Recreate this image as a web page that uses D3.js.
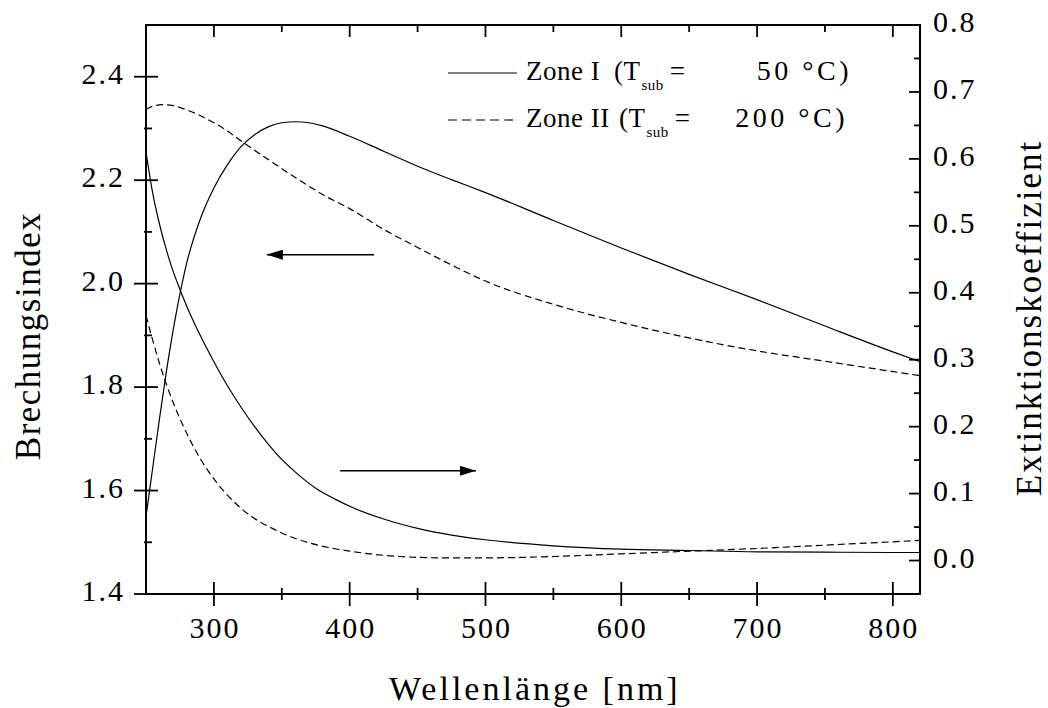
<!DOCTYPE html>
<meta charset="utf-8">
<style>
body { margin: 0; background: #fff; }
svg text { font-family: "Liberation Serif", "Times New Roman", serif; fill: #000; }
</style>
<body>
<svg id="chart"></svg>
<script src="https://cdn.jsdelivr.net/npm/d3@7"></script>
<script>

var width = 1048,
    height = 708;

// wavelength samples (nm)
var lambdaN1 = [250, 255, 260, 265, 270, 275, 280, 290, 300, 310, 320, 330, 340, 350, 360, 370, 380, 400, 425, 450, 475, 500, 550, 600, 650, 700, 750, 800, 820];
// refractive index, zone I (T_sub = 50 C)
var nZone1 = [1.55, 1.645, 1.74, 1.83, 1.91, 1.98, 2.04, 2.125, 2.185, 2.23, 2.265, 2.288, 2.303, 2.311, 2.313, 2.311, 2.305, 2.285, 2.256, 2.227, 2.201, 2.176, 2.122, 2.069, 2.018, 1.969, 1.918, 1.868, 1.849];

var lambdaN2 = [250, 255, 262, 270, 280, 295, 310, 321, 340, 360, 383, 400, 425, 450, 475, 500, 550, 600, 650, 700, 750, 800, 820];
// refractive index, zone II (T_sub = 200 C)
var nZone2 = [2.337, 2.343, 2.346, 2.344, 2.336, 2.318, 2.295, 2.274, 2.24, 2.205, 2.168, 2.145, 2.105, 2.07, 2.036, 2.005, 1.96, 1.925, 1.895, 1.87, 1.85, 1.83, 1.822];

var lambdaK1 = [250, 255, 260, 265, 270, 275, 280, 290, 300, 310, 320, 330, 340, 350, 360, 375, 390, 400, 425, 450, 475, 500, 550, 600, 650, 700, 750, 800, 820];
// extinction coefficient, zone I
var kZone1 = [0.61, 0.548, 0.502, 0.464, 0.432, 0.405, 0.38, 0.336, 0.297, 0.261, 0.229, 0.2, 0.174, 0.151, 0.132, 0.108, 0.091, 0.081, 0.062, 0.048, 0.038, 0.031, 0.022, 0.017, 0.015, 0.013, 0.0125, 0.012, 0.012];

var lambdaK2 = [250, 260, 270, 280, 290, 300, 320, 346, 360, 388, 400, 437, 470, 500, 550, 600, 650, 700, 750, 800, 820];
// extinction coefficient, zone II
var kZone2 = [0.366, 0.294, 0.236, 0.19, 0.152, 0.122, 0.078, 0.045, 0.033, 0.018, 0.014, 0.006, 0.004, 0.004, 0.006, 0.01, 0.014, 0.018, 0.023, 0.028, 0.03];

var xMajor = [300, 400, 500, 600, 700, 800],
    xMinor = [350, 450, 550, 650, 750];
var nMajor = [1.4, 1.6, 1.8, 2.0, 2.2, 2.4],
    nMinor = [1.5, 1.7, 1.9, 2.1, 2.3];
var kMajor = [0.0, 0.1, 0.2, 0.3, 0.4, 0.5, 0.6, 0.7, 0.8],
    kMinor = [0.05, 0.15, 0.25, 0.35, 0.45, 0.55, 0.65, 0.75];

var legendLabels = ["Zone I", "Zone II"];
var legendTemps = ["50 \u00b0C)", "200 \u00b0C)"];

var svg = d3.select("#chart")
    .attr("width", width)
    .attr("height", height);

var plotLeft = 146, plotRight = 920, plotTop = 25, plotBottom = 594;

var x = d3.scaleLinear().domain([250, 820]).range([plotLeft, plotRight]);
var yN = d3.scaleLinear().domain([1.4, 2.5]).range([plotBottom, plotTop]);
var yK = d3.scaleLinear().domain([-0.05, 0.8]).range([plotBottom, plotTop]);

// curves
var lineN = d3.line().x(function(d) { return x(d[0]); }).y(function(d) { return yN(d[1]); }).curve(d3.curveMonotoneX);
var lineK = d3.line().x(function(d) { return x(d[0]); }).y(function(d) { return yK(d[1]); }).curve(d3.curveMonotoneX);

function zip(a, b) { return a.map(function(v, i) { return [v, b[i]]; }); }

var curves = svg.append("g")
    .attr("fill", "none")
    .attr("stroke", "#000")
    .attr("stroke-width", 1.2);

curves.append("path").attr("d", lineN(zip(lambdaN1, nZone1)));
curves.append("path").attr("d", lineN(zip(lambdaN2, nZone2))).attr("stroke-dasharray", "7,4");
curves.append("path").attr("d", lineK(zip(lambdaK1, kZone1)));
curves.append("path").attr("d", lineK(zip(lambdaK2, kZone2))).attr("stroke-dasharray", "7,4");

// frame
svg.append("rect")
    .attr("x", plotLeft).attr("y", plotTop)
    .attr("width", plotRight - plotLeft).attr("height", plotBottom - plotTop)
    .attr("fill", "none").attr("stroke", "#000").attr("stroke-width", 2);

var ticks = svg.append("g").attr("stroke", "#000").attr("stroke-width", 1.8);

// bottom + top ticks
xMajor.forEach(function(v) {
    ticks.append("line").attr("x1", x(v)).attr("x2", x(v)).attr("y1", plotBottom - 12).attr("y2", plotBottom + 12);
    ticks.append("line").attr("x1", x(v)).attr("x2", x(v)).attr("y1", plotTop).attr("y2", plotTop + 12);
});
xMinor.forEach(function(v) {
    ticks.append("line").attr("x1", x(v)).attr("x2", x(v)).attr("y1", plotBottom - 6).attr("y2", plotBottom + 6);
    ticks.append("line").attr("x1", x(v)).attr("x2", x(v)).attr("y1", plotTop).attr("y2", plotTop + 7);
});
// left ticks
nMajor.forEach(function(v) {
    ticks.append("line").attr("x1", plotLeft - 12).attr("x2", plotLeft + 12).attr("y1", yN(v)).attr("y2", yN(v));
});
nMinor.forEach(function(v) {
    ticks.append("line").attr("x1", plotLeft - 2).attr("x2", plotLeft + 6).attr("y1", yN(v)).attr("y2", yN(v));
});
// right ticks (inside)
kMajor.forEach(function(v) {
    ticks.append("line").attr("x1", plotRight - 11).attr("x2", plotRight).attr("y1", yK(v)).attr("y2", yK(v));
});
kMinor.forEach(function(v) {
    ticks.append("line").attr("x1", plotRight - 6).attr("x2", plotRight).attr("y1", yK(v)).attr("y2", yK(v));
});

// tick labels
var labels = svg.append("g").attr("font-size", 30).attr("letter-spacing", 2);

labels.selectAll(".xl").data(xMajor).enter().append("text")
    .attr("x", function(d) { return x(d) + 1; })
    .attr("y", 638)
    .attr("text-anchor", "middle")
    .text(function(d) { return d; });

labels.selectAll(".nl").data(nMajor).enter().append("text")
    .attr("x", 125)
    .attr("y", function(d) { return yN(d) + 7; })
    .attr("text-anchor", "end")
    .text(function(d) { return d.toFixed(1); });

labels.selectAll(".kl").data(kMajor).enter().append("text")
    .attr("x", 933)
    .attr("y", function(d) { return yK(d) + 7; })
    .text(function(d) { return d.toFixed(1); });

// axis titles
svg.append("text")
    .attr("transform", "translate(40,336) rotate(-90)")
    .attr("text-anchor", "middle")
    .attr("font-size", 35).attr("letter-spacing", 1.5)
    .text("Brechungsindex");

svg.append("text")
    .attr("transform", "translate(1041,318) rotate(-90)")
    .attr("text-anchor", "middle")
    .attr("font-size", 35).attr("letter-spacing", 2)
    .text("Extinktionskoeffizient");

svg.append("text")
    .attr("x", 389).attr("y", 700)
    .attr("font-size", 34).attr("letter-spacing", 3)
    .text("Wellenlänge [nm]");

// arrows
var defs = svg.append("defs");
defs.append("marker")
    .attr("id", "head")
    .attr("viewBox", "0 0 16 10")
    .attr("refX", 16).attr("refY", 5)
    .attr("markerWidth", 16).attr("markerHeight", 10)
    .attr("markerUnits", "userSpaceOnUse")
    .attr("orient", "auto")
    .append("path").attr("d", "M0,0L16,5L0,10Z").attr("fill", "#000");

svg.append("line")
    .attr("x1", x(418)).attr("x2", x(339))
    .attr("y1", yN(2.056)).attr("y2", yN(2.056))
    .attr("stroke", "#000").attr("stroke-width", 1.5)
    .attr("marker-end", "url(#head)");

svg.append("line")
    .attr("x1", x(393)).attr("x2", x(493))
    .attr("y1", yK(0.134)).attr("y2", yK(0.134))
    .attr("stroke", "#000").attr("stroke-width", 1.5)
    .attr("marker-end", "url(#head)");

// legend
var legend = svg.append("g");
var parenX = [614, 619], tempEnd = [852, 848];
[0, 1].forEach(function(i) {
    var base = i === 0 ? 80 : 127;
    legend.append("line")
        .attr("x1", 448).attr("x2", 517)
        .attr("y1", base - 7).attr("y2", base - 7)
        .attr("stroke", "#000").attr("stroke-width", 1.2)
        .attr("stroke-dasharray", i === 0 ? null : "9,5");
    var t = legend.append("text").attr("y", base).attr("font-size", 27).attr("letter-spacing", 0.5);
    t.append("tspan").attr("x", 526).text(legendLabels[i]);
    t.append("tspan").attr("x", parenX[i]).text("(T");
    t.append("tspan").attr("font-size", 15).attr("dy", 10).attr("dx", 1).text("sub");
    t.append("tspan").attr("dy", -10).attr("dx", 6).text("=");
    legend.append("text")
        .attr("x", tempEnd[i]).attr("y", base)
        .attr("text-anchor", "end")
        .attr("font-size", 28).attr("letter-spacing", 3.5)
        .text(legendTemps[i]);
});

</script>
</body>
